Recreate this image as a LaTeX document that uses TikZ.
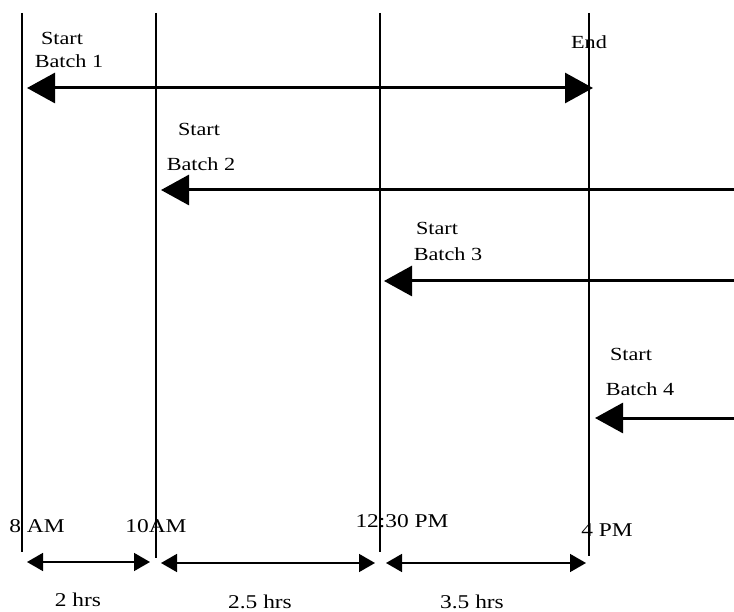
\documentclass[tikz,border=0pt]{standalone}
\usepackage{fontspec}
\setmainfont{Liberation Serif}
\newfontfamily\lblfont[FakeStretch=1.2]{Liberation Serif}
\usetikzlibrary{arrows.meta}
\begin{document}
\begin{tikzpicture}[x=1pt,y=-1pt,
  vline/.style={line width=1.3pt},
  bigarrow/.style={line width=3pt,-{Triangle[length=28pt,width=30pt]}},
  bigdouble/.style={line width=3pt,{Triangle[length=28pt,width=30pt]}-{Triangle[length=28pt,width=30pt]}},
  spanarrow/.style={line width=1.6pt,{Triangle[length=16pt,width=18pt]}-{Triangle[length=16pt,width=18pt]}},
  lbl/.style={font=\lblfont\fontsize{18.5}{20}\selectfont,inner sep=0pt},
  tlbl/.style={font=\lblfont\fontsize{19.5}{21}\selectfont,inner sep=0pt}]
\useasboundingbox (0,0) rectangle (734,612);
% vertical time lines
\coordinate (v1t) at (22,13);  \coordinate (v1b) at (22,552);
\coordinate (v2t) at (156,13); \coordinate (v2b) at (156,558);
\coordinate (v3t) at (380,13); \coordinate (v3b) at (380,552);
\coordinate (v4t) at (589,13); \coordinate (v4b) at (589,556);
\draw[vline] (v1t) -- (v1b);
\draw[vline] (v2t) -- (v2b);
\draw[vline] (v3t) -- (v3b);
\draw[vline] (v4t) -- (v4b);
% batch arrows
\coordinate (a1l) at (27,88);  \coordinate (a1r) at (593,88);
\coordinate (a2s) at (734,190); \coordinate (a2e) at (161,190);
\coordinate (a3s) at (734,281); \coordinate (a3e) at (384,281);
\coordinate (a4s) at (734,418); \coordinate (a4e) at (595,418);
\draw[bigdouble] (a1l) -- (a1r);
\draw[bigarrow] (a2s) -- (a2e);
\draw[bigarrow] (a3s) -- (a3e);
\draw[bigarrow] (a4s) -- (a4e);
% labels
\node[lbl] (s1) at (62,38) {Start};
\node[lbl] (b1) at (69,61) {Batch 1};
\node[lbl] (e1) at (589,42) {End};
\node[lbl] (s2) at (199,129) {Start};
\node[lbl] (b2) at (201,164) {Batch 2};
\node[lbl] (s3) at (437,228) {Start};
\node[lbl] (b3) at (448,254) {Batch 3};
\node[lbl] (s4) at (631,354) {Start};
\node[lbl] (b4) at (640,389) {Batch 4};
% time labels
\node[tlbl] (t1) at (37,526) {8 AM};
\node[tlbl] (t2) at (156,526) {10AM};
\node[tlbl] (t3) at (402,521) {12:30 PM};
\node[tlbl] (t4) at (607,530) {4 PM};
% span arrows
\coordinate (p1l) at (27,562);  \coordinate (p1r) at (150,562);
\coordinate (p2l) at (161,563); \coordinate (p2r) at (375,563);
\coordinate (p3l) at (386,563); \coordinate (p3r) at (586,563);
\draw[spanarrow] (p1l) -- (p1r);
\draw[spanarrow] (p2l) -- (p2r);
\draw[spanarrow] (p3l) -- (p3r);
\node[tlbl] (d1) at (78,600) {2 hrs};
\node[tlbl] (d2) at (260,602) {2.5 hrs};
\node[tlbl] (d3) at (472,602) {3.5 hrs};
\end{tikzpicture}
\end{document}
